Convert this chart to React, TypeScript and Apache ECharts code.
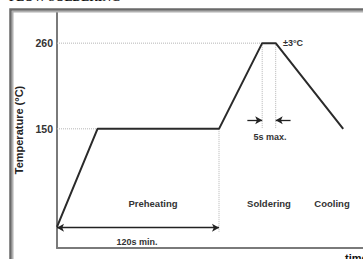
import React, { useEffect, useRef } from "react";
import * as echarts from "echarts";

const timeSec = [0, 30, 120, 152, 162, 212];
const tempC = [24, 150, 150, 260, 260, 150];
const yTicks = [150, 260];
const phaseLabels = ["Preheating", "Soldering", "Cooling"];

const FONT = "Liberation Sans, Arial, sans-serif";

export default function App() {
  const ref = useRef<HTMLDivElement>(null);
  useEffect(() => {
    if (!ref.current) return;
    const chart = echarts.init(ref.current, null, { renderer: "svg" });
    const profile = timeSec.map((t, i) => [t, tempC[i]]);
    const dotted = { color: "#b5b5b5", width: 1, type: "dotted" as const };
    const dotSeries = (data: number[][]) => ({
      type: "line",
      data,
      symbol: "none",
      silent: true,
      lineStyle: dotted,
      z: 1,
    });
    const arrowLine = (a: number[], b: number[], sym: string[]) => ({
      type: "line",
      data: [],
      silent: true,
      markLine: {
        silent: true,
        symbol: sym,
        symbolSize: [6, 7],
        label: { show: false },
        lineStyle: { color: "#222", width: 1.3, type: "solid" },
        emphasis: { disabled: true },
        data: [[{ coord: a }, { coord: b }]],
      },
    });
    const frame = [
      { type: "rect", z: 100, shape: { x: 10.5, y: 9.5, width: 455, height: 320 }, style: { fill: "transparent", stroke: "#6a6a6a", lineWidth: 2.5 } },
      { type: "rect", z: 100, shape: { x: 12.75, y: 11.75, width: 450, height: 320 }, style: { fill: "transparent", stroke: "#b0b0b0", lineWidth: 1.5 } },
    ];
    chart.setOption({
      animation: false,
      grid: { left: 57, right: 8, top: 12, bottom: 11 },
      xAxis: {
        type: "value",
        min: 0,
        max: 300,
        axisLine: { onZero: false, lineStyle: { color: "#7a7a7a", width: 2 } },
        axisTick: { show: false },
        axisLabel: { show: false },
        splitLine: { show: false },
      },
      yAxis: {
        type: "value",
        min: -3,
        max: 300,
        name: "Temperature (°C)",
        nameLocation: "middle",
        nameRotate: 90,
        nameGap: 29,
        nameTextStyle: { fontFamily: FONT, fontWeight: "bold", fontSize: 11, color: "#222" },
        axisLine: { show: true, onZero: false, lineStyle: { color: "#7a7a7a", width: 2 } },
        axisTick: { show: false },
        splitLine: { show: false },
        axisLabel: {
          customValues: yTicks,
          margin: 4,
          fontFamily: FONT,
          fontWeight: "bold",
          fontSize: 10.5,
          color: "#333",
        },
      },
      series: [
        dotSeries([[0, tempC[3]], [timeSec[3], tempC[3]]]),
        dotSeries([[0, tempC[1]], [timeSec[1], tempC[1]]]),
        dotSeries([[timeSec[2], tempC[2]], [timeSec[2], 18]]),
        dotSeries([[timeSec[3], tempC[3]], [timeSec[3], 151]]),
        dotSeries([[timeSec[4], tempC[4]], [timeSec[4], 151]]),
        {
          type: "line",
          data: profile,
          symbol: "none",
          silent: true,
          lineStyle: { color: "#2a2a2a", width: 2 },
          z: 3,
        },
        arrowLine([0, 23], [timeSec[2], 23], ["arrow", "arrow"]),
        arrowLine([141, 161], [timeSec[3], 161], ["none", "arrow"]),
        arrowLine([173, 161], [timeSec[4], 161], ["none", "arrow"]),
      ],
      graphic: {
        elements: [
          ...frame,
          { type: "text", x: 9, y: -3, style: { text: "FLOW SOLDERING", fontFamily: "Liberation Serif, serif", fontWeight: "bold", fontSize: 12, fill: "#111", verticalAlign: "middle" } },
          { type: "text", x: 153, y: 203, style: { text: phaseLabels[0], fontFamily: FONT, fontWeight: "bold", fontSize: 9.5, fill: "#333", align: "center", verticalAlign: "middle" } },
          { type: "text", x: 269, y: 203, style: { text: phaseLabels[1], fontFamily: FONT, fontWeight: "bold", fontSize: 9.5, fill: "#333", align: "center", verticalAlign: "middle" } },
          { type: "text", x: 332, y: 203, style: { text: phaseLabels[2], fontFamily: FONT, fontWeight: "bold", fontSize: 9.5, fill: "#333", align: "center", verticalAlign: "middle" } },
          { type: "text", x: 137, y: 242, style: { text: "120s min.", fontFamily: FONT, fontWeight: "bold", fontSize: 9, fill: "#333", align: "center", verticalAlign: "middle" } },
          { type: "text", x: 270, y: 137, style: { text: "5s max.", fontFamily: FONT, fontWeight: "bold", fontSize: 9, fill: "#333", align: "center", verticalAlign: "middle" } },
          { type: "text", x: 283, y: 42.5, style: { text: "±3°C", fontFamily: FONT, fontWeight: "bold", fontSize: 9, fill: "#333", align: "left", verticalAlign: "middle" } },
          { type: "text", x: 345, y: 258, style: { text: "time", fontFamily: FONT, fontWeight: "bold", fontSize: 11, fill: "#111", align: "left", verticalAlign: "middle" } },
        ],
      },
    });
    return () => chart.dispose();
  }, []);
  return (
    <div style={{ position: "fixed", left: 0, top: 0, width: 363, height: 259, overflow: "hidden", background: "#fff" }}>
      <div ref={ref} style={{ position: "absolute", left: 0, top: 0, width: 470, height: 259 }} />
    </div>
  );
}
